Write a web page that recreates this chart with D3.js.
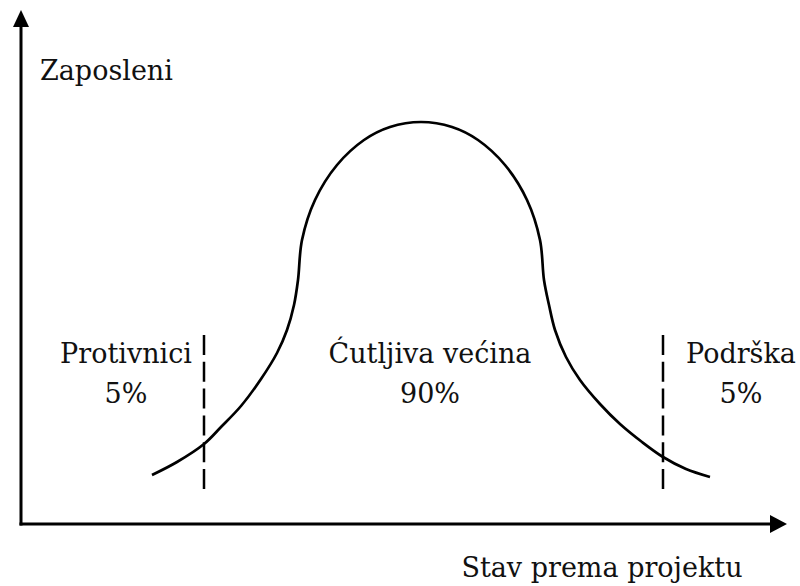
<!DOCTYPE html>
<html>
<head>
<meta charset="utf-8">
<script src="https://cdn.jsdelivr.net/npm/d3@7/dist/d3.min.js"></script>
<style>
  html, body { margin: 0; padding: 0; background: #fff; }
  svg { display: block; }
  text { font-family: "DejaVu Serif", serif; fill: #111; }
</style>
</head>
<body>
<svg id="chart" width="800" height="586"></svg>
<script>
// ---- data ----
const axisLabels = ["Zaposleni", "Stav prema projektu"];
const segmentNames = ["Protivnici", "Ćutljiva većina", "Podrška"];
const segmentShares = ["5%", "90%", "5%"];
// boundaries between segments (stance units)
const boundaries = [183, 642];
const boundaryRange = [35, 189];
// bell curve: stance (x) and number of employees (y)
const curveX = [131, 156, 183, 200, 220, 240, 256, 266, 273, 277,
                281, 294, 316, 343, 369, 400, 431, 457, 484, 506, 519, 523,
                528, 534, 545, 559, 579, 599, 621, 642, 665, 689];
const curveY = [49, 62, 80, 97, 118, 145, 171, 194, 219, 244,
                284, 324, 359, 384, 397, 402, 397, 384, 359, 324, 284, 244,
                219, 194, 167, 144, 120, 100, 82, 67, 55, 47];

// ---- layout ----
const svg = d3.select("#chart");
const x = d3.scaleLinear().domain([0, 766]).range([21, 787]);
const y = d3.scaleLinear().domain([0, 512]).range([524, 12]);

// axes
svg.append("line").attr("x1", x(0)).attr("x2", x(0)).attr("y1", y(0) + 1.5).attr("y2", y(512) + 14)
  .attr("stroke", "#000").attr("stroke-width", 3);
svg.append("line").attr("x1", x(0) - 1.5).attr("x2", x(766) - 14).attr("y1", y(0)).attr("y2", y(0))
  .attr("stroke", "#000").attr("stroke-width", 3);
// arrowheads
svg.append("path")
  .attr("d", `M${x(0)},${y(512) - 2} L${x(0) - 8},${y(512) + 15} L${x(0) + 8},${y(512) + 15} Z`)
  .attr("fill", "#000");
svg.append("path")
  .attr("d", `M${x(766)},${y(0)} L${x(766) - 17},${y(0) - 9} L${x(766) - 17},${y(0) + 9} Z`)
  .attr("fill", "#000");

// curve
const pts = curveX.map((v, i) => [v, curveY[i]]);
const line = d3.line().x(d => x(d[0])).y(d => y(d[1])).curve(d3.curveCatmullRom.alpha(0.5));
svg.append("path").datum(pts).attr("d", line)
  .attr("fill", "none").attr("stroke", "#000").attr("stroke-width", 2.7);

// dashed boundaries
svg.selectAll("line.bound").data(boundaries).enter().append("line")
  .attr("class", "bound")
  .attr("x1", d => x(d)).attr("x2", d => x(d))
  .attr("y1", y(boundaryRange[1])).attr("y2", y(boundaryRange[0]))
  .attr("stroke", "#000").attr("stroke-width", 2.5).attr("stroke-dasharray", "20,6.8");

// labels
const fs = 27;
svg.append("text").attr("x", 40).attr("y", 80).attr("font-size", fs).text(axisLabels[0]);
svg.append("text").attr("x", 602).attr("y", 577).attr("font-size", fs)
  .attr("text-anchor", "middle").text(axisLabels[1]);

const segCenters = [126, 430, 741];
segmentNames.forEach((n, i) => {
  svg.append("text").attr("x", segCenters[i]).attr("y", 363).attr("font-size", fs)
    .attr("text-anchor", "middle").text(n);
  svg.append("text").attr("x", segCenters[i]).attr("y", 403).attr("font-size", fs)
    .attr("text-anchor", "middle").text(segmentShares[i]);
});
</script>
</body>
</html>
